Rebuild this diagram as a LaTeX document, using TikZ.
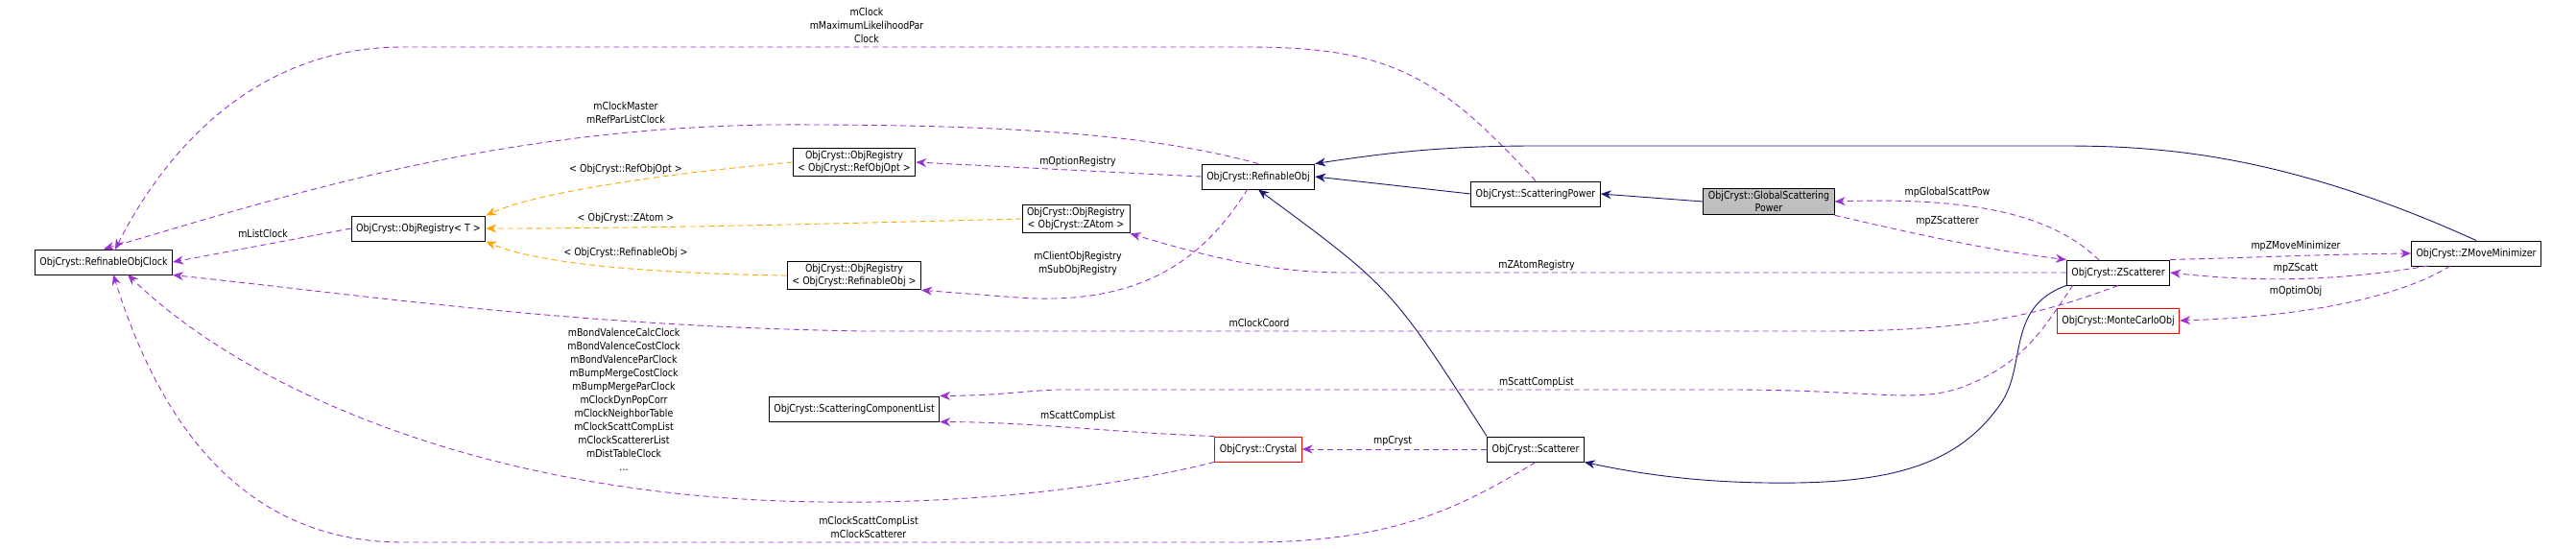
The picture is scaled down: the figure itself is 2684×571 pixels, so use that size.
\documentclass[tikz,border=0pt]{standalone}
\usepackage{fontspec}
\setmainfont{DejaVu Sans}[FakeStretch=0.86]
\usetikzlibrary{positioning, arrows.meta, calc}

\definecolor{depcol}{HTML}{9A32CD}
\definecolor{tplcol}{HTML}{FFA500}
\definecolor{inhcol}{HTML}{191970}

\begin{document}
\begin{tikzpicture}[
    x=1pt, y=-1pt,
    cls/.style={rectangle, draw=black, line width=1pt, fill=white, minimum height=26pt,
                inner xsep=5pt, inner ysep=3pt, align=center, font=\fontsize{11}{13}\selectfont},
    redcls/.style={cls, draw=red},
    lbl/.style={font=\fontsize{11}{14}\selectfont, align=center, inner sep=0pt},
    dep/.style={-{Stealth[length=11pt, width=9pt]}, depcol, dashed, dash pattern=on 6pt off 4pt, line width=0.9pt},
    tpl/.style={dep, tplcol},
    inh/.style={-{Stealth[length=11pt, width=9pt]}, inhcol, line width=0.9pt}
]
    \useasboundingbox (0,0) rectangle (2684,571);

    % Classes
    \node[cls] (clock) at (108,273) {ObjCryst::RefinableObjClock};
    \node[cls] (regT) at (436,238) {ObjCryst::ObjRegistry< T >};
    \node[cls] (regopt) at (890,169) {ObjCryst::ObjRegistry\\< ObjCryst::RefObjOpt >};
    \node[cls] (regzat) at (1121,228) {ObjCryst::ObjRegistry\\< ObjCryst::ZAtom >};
    \node[cls] (regobj) at (890,287) {ObjCryst::ObjRegistry\\< ObjCryst::RefinableObj >};
    \node[cls] (complist) at (890,426) {ObjCryst::ScatteringComponentList};
    \node[cls] (refobj) at (1311,184) {ObjCryst::RefinableObj};
    \node[cls] (scpow) at (1600,202) {ObjCryst::ScatteringPower};
    \node[cls, fill=black!25] (gscpow) at (1843,210) {ObjCryst::GlobalScattering\\Power};
    \node[redcls] (cryst) at (1311,468) {ObjCryst::Crystal};
    \node[cls] (scatt) at (1600,468) {ObjCryst::Scatterer};
    \node[cls] (zscatt) at (2207,284) {ObjCryst::ZScatterer};
    \node[cls] (zmin) at (2580,264) {ObjCryst::ZMoveMinimizer};
    \node[redcls] (mcobj) at (2207,334) {ObjCryst::MonteCarloObj};

    % Inheritance
    \draw[inh] (scpow.west) -- (refobj.east);
    \draw[inh] (scatt.north west) .. controls (1450,300) .. (refobj.south);
    \draw[inh] (zmin.north) .. controls (2380,160) and (2250,152) .. (2150,152)
        -- (1600,152) .. controls (1500,152) and (1440,160) .. (refobj.north east);
    \draw[inh] (gscpow.west) -- (scpow.east);
    \draw[inh] (zscatt.south west) .. controls (2090,320) and (2112,380) .. (2085,420)
        .. controls (2040,485) and (1970,505) .. (1840,503)
        .. controls (1760,502) and (1700,492) .. (scatt.south east);

    % Template instances
    \draw[tpl] (regopt.west) .. controls (700,180) and (560,200) .. (regT.north east);
    \draw[tpl] (regzat.west) .. controls (900,232) and (700,238) .. (regT.east);
    \draw[tpl] (regobj.west) .. controls (680,285) and (560,275) .. (regT.south east);
    \node[lbl] at (652,176) {< ObjCryst::RefObjOpt >};
    \node[lbl] at (652,227) {< ObjCryst::ZAtom >};
    \node[lbl] at (652,263) {< ObjCryst::RefinableObj >};

    % Usage
    \draw[dep] (regT.west) -- (clock.east);
    \node[lbl] at (274,243) {mListClock};
    \draw[dep] (refobj.north) .. controls (1200,140) and (1050,129) .. (800,130)
        .. controls (500,135) and (280,210) .. (clock.north);
    \node[lbl] at (652,117) {mClockMaster\\mRefParListClock};
    \draw[dep] (scpow.north) .. controls (1500,80) and (1450,49) .. (1300,49)
        -- (420,49) .. controls (250,49) and (160,180) .. (120,260);
    \node[lbl] at (903,26) {mClock\\mMaximumLikelihoodPar\\Clock};
    \draw[dep] (zscatt.south) .. controls (2120,330) and (2050,345) .. (1900,345)
        -- (900,345) .. controls (600,340) and (400,310) .. (clock.south east);
    \node[lbl] at (1312,336) {mClockCoord};
    \draw[dep] (cryst.south west) .. controls (1150,510) and (1000,525) .. (860,523)
        .. controls (500,520) and (250,400) .. (133,286);
    \node[lbl] at (650,416) {mBondValenceCalcClock\\mBondValenceCostClock\\mBondValenceParClock\\mBumpMergeCostClock\\mBumpMergeParClock\\mClockDynPopCorr\\mClockNeighborTable\\mClockScattCompList\\mClockScattererList\\mDistTableClock\\...};
    \draw[dep] (scatt.south) .. controls (1520,530) and (1450,565) .. (1300,565)
        -- (420,565) .. controls (240,565) and (160,420) .. (118,286);
    \node[lbl] at (905,549) {mClockScattCompList\\mClockScatterer};
    \draw[dep] (refobj.west) -- (regopt.east);
    \node[lbl] at (1123,168) {mOptionRegistry};
    \draw[dep] (1300,197) .. controls (1260,260) and (1200,320) .. (1060,310) -- (regobj.south east);
    \node[lbl] at (1123,274) {mClientObjRegistry\\mSubObjRegistry};
    \draw[dep] (zscatt.west) -- (1400,284) .. controls (1320,284) and (1250,265) .. (regzat.south east);
    \node[lbl] at (1601,276) {mZAtomRegistry};
    \draw[dep] (2160,297) .. controls (2130,340) and (2110,380) .. (2040,405)
        .. controls (1990,420) and (1950,406) .. (1800,406)
        -- (1100,406) .. controls (1060,408) and (1040,412) .. (complist.north east);
    \node[lbl] at (1601,398) {mScattCompList};
    \draw[dep] (cryst.north west) .. controls (1150,450) and (1080,440) .. (complist.south east);
    \node[lbl] at (1123,433) {mScattCompList};
    \draw[dep] (scatt.west) -- (cryst.east);
    \node[lbl] at (1451,460) {mpCryst};
    \draw[dep] (2187,271) .. controls (2140,225) and (2060,205) .. (gscpow.east);
    \node[lbl] at (2029,200) {mpGlobalScattPow};
    \draw[dep] (gscpow.south east) .. controls (2000,245) and (2080,262) .. (zscatt.north west);
    \node[lbl] at (2029,231) {mpZScatterer};
    \draw[dep] (zscatt.north east) .. controls (2360,268) and (2420,265) .. (zmin.west);
    \node[lbl] at (2392,256) {mpZMoveMinimizer};
    \draw[dep] (2530,277) .. controls (2440,292) and (2360,295) .. (zscatt.east);
    \node[lbl] at (2392,280) {mpZScatt};
    \draw[dep] (2553,277) .. controls (2500,310) and (2400,330) .. (mcobj.east);
    \node[lbl] at (2392,303) {mOptimObj};
\end{tikzpicture}
\end{document}
